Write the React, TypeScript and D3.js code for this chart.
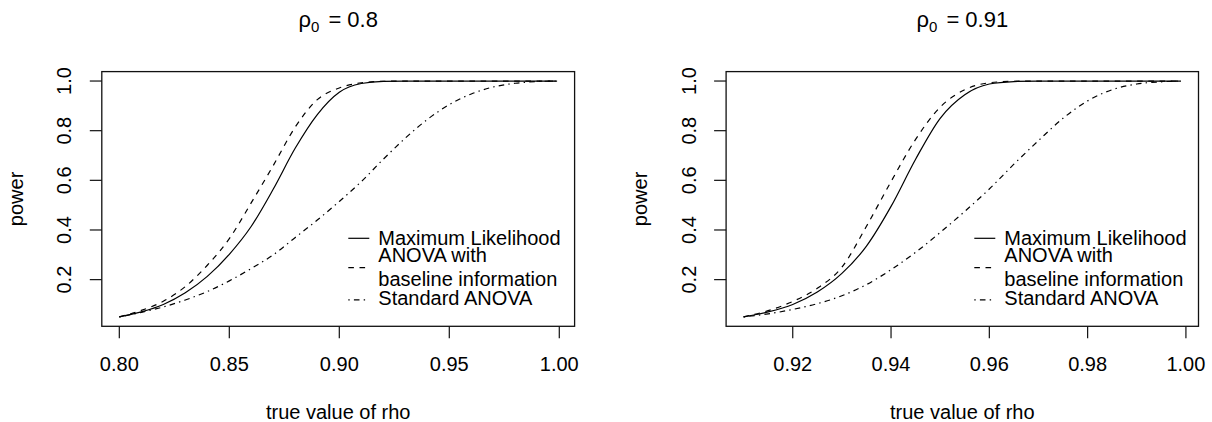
import React, { useLayoutEffect, useRef } from "react";
import * as d3 from "d3";

// ---------- data ----------
const leftRho = [0.80, 0.81, 0.82, 0.83, 0.84, 0.85, 0.86, 0.87, 0.88, 0.89, 0.90, 0.91, 0.92, 0.93, 0.94, 0.95, 0.96, 0.97, 0.98, 0.99, 0.999];
const leftML = [0.05, 0.07, 0.1, 0.147, 0.213, 0.302, 0.415, 0.565, 0.73, 0.865, 0.955, 0.99, 0.999, 1, 1, 1, 1, 1, 1, 1, 1];
const leftBaseline = [0.05, 0.076, 0.113, 0.172, 0.258, 0.365, 0.51, 0.66, 0.815, 0.925, 0.972, 0.993, 0.999, 1, 1, 1, 1, 1, 1, 1, 1];
const leftStandard = [0.05, 0.068, 0.09, 0.118, 0.152, 0.195, 0.245, 0.3, 0.37, 0.44, 0.515, 0.595, 0.685, 0.77, 0.845, 0.905, 0.948, 0.976, 0.991, 0.998, 1];

const rightRho = [0.910, 0.915, 0.920, 0.925, 0.930, 0.935, 0.940, 0.945, 0.950, 0.955, 0.960, 0.965, 0.970, 0.975, 0.980, 0.985, 0.990, 0.995, 0.999];
const rightML = [0.05, 0.07, 0.1, 0.15, 0.225, 0.335, 0.495, 0.685, 0.85, 0.945, 0.988, 0.998, 1, 1, 1, 1, 1, 1, 1];
const rightBaseline = [0.05, 0.075, 0.112, 0.165, 0.25, 0.415, 0.595, 0.765, 0.895, 0.965, 0.993, 0.999, 1, 1, 1, 1, 1, 1, 1];
const rightStandard = [0.05, 0.062, 0.08, 0.103, 0.135, 0.18, 0.24, 0.31, 0.39, 0.475, 0.565, 0.665, 0.76, 0.85, 0.92, 0.965, 0.988, 0.997, 1];

const leftTicks = [0.80, 0.85, 0.90, 0.95, 1.00];
const rightTicks = [0.92, 0.94, 0.96, 0.98, 1.00];
const powerTicks = [0.2, 0.4, 0.6, 0.8, 1.0];

const titles = ["0.8", "0.91"];
const legendLabels = [["Maximum Likelihood"], ["ANOVA with", "baseline information"], ["Standard ANOVA"]];
const xLabel = "true value of rho";
const yLabel = "power";

// ---------- styles ----------
const FONT = "'Liberation Sans', Arial, Helvetica, sans-serif";
const TOP = 71.6;
const BOTTOM = 326.3;
const dashes = ["none", "5.6 5.6", "1.4 4.2 5.6 4.2"];

function Title({ cx, value }: { cx: number; value: string }) {
  const ref = useRef<SVGTextElement>(null);
  useLayoutEffect(() => {
    const el = ref.current;
    if (!el) return;
    const w = el.getBBox().width;
    el.setAttribute("x", String(cx - w / 2));
  }, [cx, value]);
  return (
    <text ref={ref} x={cx} y={27} textAnchor="start" fontSize={22} style={{ whiteSpace: "pre" }}>
      <tspan>ρ</tspan>
      <tspan fontSize={15} dy={5}>0</tspan>
      <tspan dy={-5} dx={3}>{" = " + value}</tspan>
    </text>
  );
}

type PanelProps = {
  left: number;
  right: number;
  rho: number[];
  series: number[][];
  xticks: number[];
  title: string;
  legendOffset: number;
};

function Panel({ left, right, rho, series, xticks, title, legendOffset }: PanelProps) {
  const [x0, x1] = d3.extent(rho) as [number, number];
  const px = (x1 - x0) * 0.04;
  const x = d3.scaleLinear().domain([x0 - px, x1 + px]).range([left, right]);
  const allY = series.flat();
  const [y0, y1] = d3.extent(allY) as [number, number];
  const py = (y1 - y0) * 0.04;
  const y = d3.scaleLinear().domain([y0 - py, y1 + py]).range([BOTTOM, TOP]);
  const line = d3
    .line<number>()
    .x((_, i) => x(rho[i]))
    .y((d) => y(d))
    .curve(d3.curveMonotoneX);
  const fx = d3.format(".2f");
  const fy = d3.format(".1f");
  const cx = (left + right) / 2;
  const cy = (TOP + BOTTOM) / 2;
  const textX = right - legendOffset;
  const baselines = [[244.5], [262, 286], [304.5]];
  const lineYs = [238.3, 267.6, 299.8];

  return (
    <g>
      <Title cx={cx} value={title} />

      {series.map((s, i) => (
        <path key={i} d={line(s) || ""} fill="none" stroke="#000" strokeWidth={1.2} strokeDasharray={dashes[i]} />
      ))}

      <rect x={left} y={TOP} width={right - left} height={BOTTOM - TOP} fill="none" stroke="#111" strokeWidth={1.3} />

      {xticks.map((t) => (
        <g key={t}>
          <line x1={x(t)} x2={x(t)} y1={BOTTOM} y2={BOTTOM + 12} stroke="#111" strokeWidth={1.2} />
          <text x={x(t)} y={370.7} textAnchor="middle" fontSize={20}>{fx(t)}</text>
        </g>
      ))}

      {powerTicks.map((t) => (
        <g key={t}>
          <line x1={left} x2={left - 12} y1={y(t)} y2={y(t)} stroke="#111" strokeWidth={1.2} />
          <text transform={`translate(${left - 30.5},${y(t)}) rotate(-90)`} textAnchor="middle" fontSize={20}>
            {fy(t)}
          </text>
        </g>
      ))}

      <text x={cx} y={418.5} textAnchor="middle" fontSize={20}>{xLabel}</text>
      <text transform={`translate(${left - 79},${cy}) rotate(-90)`} textAnchor="middle" fontSize={20}>
        {yLabel}
      </text>

      {legendLabels.map((lab, i) => (
        <g key={i}>
          <line x1={textX - 30} x2={textX - 9} y1={lineYs[i]} y2={lineYs[i]} stroke="#000" strokeWidth={1.2} strokeDasharray={dashes[i]} />
          {lab.map((t, j) => (
            <text key={j} x={textX} y={baselines[i][j]} fontSize={20}>{t}</text>
          ))}
        </g>
      ))}
    </g>
  );
}

export default function App() {
  return (
    <svg
      width={1212}
      height={422}
      style={{ position: "absolute", left: 0, top: 0, background: "#fff" }}
      fontFamily={FONT}
      fill="#000"
    >
      <rect x={0} y={0} width={1212} height={422} fill="#fff" />
      <Panel
        left={101.8}
        right={574.6}
        rho={leftRho}
        series={[leftML, leftBaseline, leftStandard]}
        xticks={leftTicks}
        title={titles[0]}
        legendOffset={196.3}
      />
      <Panel
        left={726.1}
        right={1198.5}
        rho={rightRho}
        series={[rightML, rightBaseline, rightStandard]}
        xticks={rightTicks}
        title={titles[1]}
        legendOffset={194.2}
      />
    </svg>
  );
}
